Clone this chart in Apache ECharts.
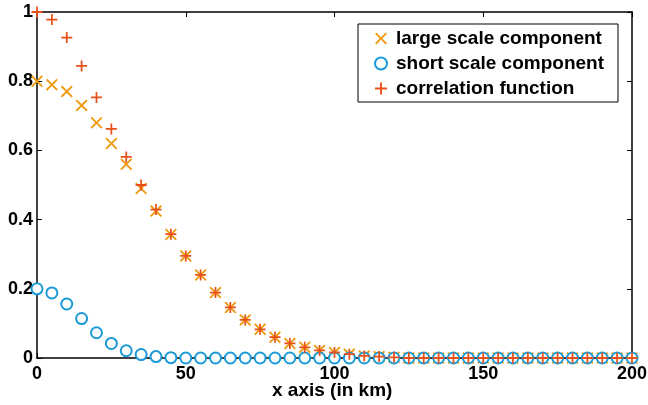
<!DOCTYPE html>
<html>
<head>
<meta charset="utf-8">
<script src="https://cdn.jsdelivr.net/npm/echarts@6/dist/echarts.min.js"></script>
<style>
  html, body { margin: 0; padding: 0; background: #fff; }
  #main { width: 648px; height: 405px; }
</style>
</head>
<body>
<div id="main"></div>
<script>
// x positions (km)
var xs = [0, 5, 10, 15, 20, 25, 30, 35, 40, 45, 50, 55, 60, 65, 70, 75, 80, 85, 90, 95,
          100, 105, 110, 115, 120, 125, 130, 135, 140, 145, 150, 155, 160, 165, 170, 175, 180, 185, 190, 195, 200];

var largeScale = [0.8, 0.79, 0.77, 0.73, 0.68, 0.62, 0.56, 0.49, 0.425, 0.357, 0.295, 0.24, 0.189, 0.146, 0.11, 0.083, 0.06, 0.042, 0.031, 0.022,
                  0.016, 0.011, 0.006, 0.004, 0.002, 0, 0, 0, 0, 0, 0, 0, 0, 0, 0, 0, 0, 0, 0, 0, 0];

var shortScale = [0.2, 0.188, 0.156, 0.114, 0.073, 0.042, 0.021, 0.01, 0.004, 0.001, 0, 0, 0, 0, 0, 0, 0, 0, 0, 0,
                  0, 0, 0, 0, 0, 0, 0, 0, 0, 0, 0, 0, 0, 0, 0, 0, 0, 0, 0, 0, 0];

var correlation = [1, 0.978, 0.926, 0.844, 0.753, 0.662, 0.581, 0.5, 0.429, 0.358, 0.295, 0.24, 0.189, 0.146, 0.11, 0.083, 0.06, 0.042, 0.031, 0.022,
                   0.016, 0.011, 0.006, 0.004, 0.002, 0, 0, 0, 0, 0, 0, 0, 0, 0, 0, 0, 0, 0, 0, 0, 0];

var seriesNames = ['large scale component', 'short scale component', 'correlation function'];

function pairs(ys) {
    return xs.map(function (x, i) { return [x, ys[i]]; });
}

var plusPath = 'path://M4.2,0 H5.8 V4.2 H10 V5.8 H5.8 V10 H4.2 V5.8 H0 V4.2 H4.2 Z';
var crossPath = 'path://M0,1.1 L1.1,0 L5,3.9 L8.9,0 L10,1.1 L6.1,5 L10,8.9 L8.9,10 L5,6.1 L1.1,10 L0,8.9 L3.9,5 Z';
var font = '"Liberation Sans", Arial, sans-serif';
var orange = '#EF9A10', blue = '#1A9AD6', red = '#E8501A';

var myChart = echarts.init(document.getElementById('main'));
myChart.setOption({
    backgroundColor: '#fff',
    animation: false,
    textStyle: { fontFamily: font },
    // x axis title, placed under the tick labels
    title: {
        text: 'x axis (in km)',
        left: 272,
        top: 381,
        padding: 0,
        textStyle: { fontFamily: font, fontWeight: 'bold', fontSize: 19, color: '#000' }
    },
    grid: { left: 37, right: 16, top: 12, bottom: 47, outerBoundsMode: 'none', containLabel: false },
    legend: {
        orient: 'vertical',
        left: 358,
        top: 24,
        padding: [5, 14, 4, 16],
        itemGap: 6,
        itemWidth: 12,
        itemHeight: 12,
        borderColor: '#000',
        borderWidth: 1,
        borderRadius: 0,
        backgroundColor: '#fff',
        textStyle: { fontFamily: font, fontWeight: 'bold', fontSize: 19, color: '#000', padding: [0, 0, 0, 4] },
        data: [
            { name: seriesNames[0], icon: crossPath, itemStyle: { color: orange } },
            { name: seriesNames[1], icon: 'emptyCircle', itemStyle: { color: blue, borderColor: blue, borderWidth: 2 } },
            { name: seriesNames[2], icon: plusPath, itemStyle: { color: red } }
        ]
    },
    xAxis: [
        {
            type: 'value', min: 0, max: 200, interval: 50,
            axisLine: { onZero: false, lineStyle: { color: '#000', width: 1.5 } },
            axisTick: { inside: true, length: 5, lineStyle: { color: '#000' } },
            axisLabel: { fontFamily: font, fontWeight: 'bold', fontSize: 18, color: '#000', margin: 7 },
            splitLine: { show: false }
        },
        {
            type: 'value', min: 0, max: 200, interval: 50, position: 'top',
            axisLine: { onZero: false, lineStyle: { color: '#000', width: 1.5 } },
            axisTick: { inside: true, length: 5, lineStyle: { color: '#000' } },
            axisLabel: { show: false },
            splitLine: { show: false }
        }
    ],
    yAxis: [
        {
            type: 'value', min: 0, max: 1, interval: 0.2,
            axisLine: { onZero: false, lineStyle: { color: '#000', width: 1.5 } },
            axisTick: { inside: true, length: 5, lineStyle: { color: '#000' } },
            axisLabel: { fontFamily: font, fontWeight: 'bold', fontSize: 18, color: '#000', margin: 4 },
            splitLine: { show: false }
        },
        {
            type: 'value', min: 0, max: 1, interval: 0.2, position: 'right',
            axisLine: { onZero: false, lineStyle: { color: '#000', width: 1.5 } },
            axisTick: { inside: true, length: 5, lineStyle: { color: '#000' } },
            axisLabel: { show: false },
            splitLine: { show: false }
        }
    ],
    series: [
        {
            name: seriesNames[0],
            type: 'scatter',
            clip: false,
            symbol: crossPath,
            symbolSize: 12,
            itemStyle: { color: orange, opacity: 1 },
            data: pairs(largeScale)
        },
        {
            name: seriesNames[1],
            type: 'scatter',
            clip: false,
            symbol: 'emptyCircle',
            symbolSize: 11,
            itemStyle: { color: blue, borderColor: blue, borderWidth: 2, opacity: 1 },
            data: pairs(shortScale)
        },
        {
            name: seriesNames[2],
            type: 'scatter',
            clip: false,
            symbol: plusPath,
            symbolSize: 11,
            itemStyle: { color: red, opacity: 1 },
            data: pairs(correlation)
        }
    ]
});
</script>
</body>
</html>
